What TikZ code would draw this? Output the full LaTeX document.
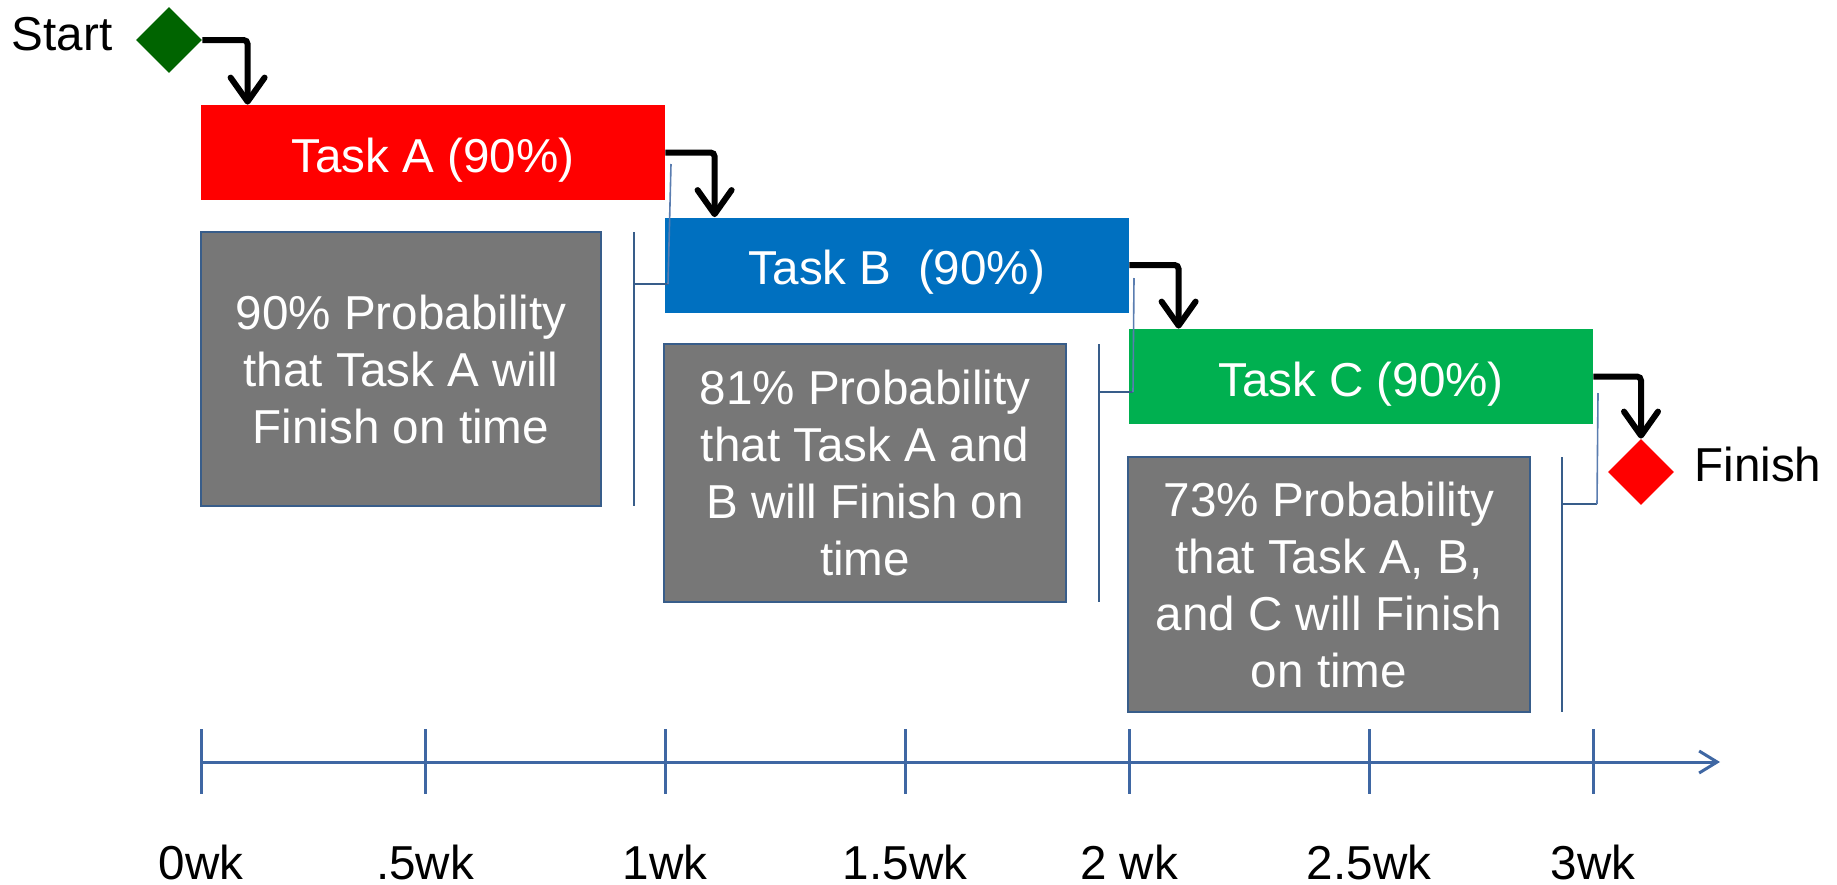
\documentclass[tikz,border=0pt]{standalone}
\usepackage{fontspec}
\setmainfont{Liberation Sans}
\usetikzlibrary{shapes.geometric,arrows.meta}

\definecolor{taskred}{HTML}{FF0000}
\definecolor{taskblue}{HTML}{0070C0}
\definecolor{taskgreen}{HTML}{00B050}
\definecolor{startgreen}{HTML}{006400}
\definecolor{notegray}{HTML}{777777}
\definecolor{boxedge}{HTML}{385D8A}
\definecolor{axisblue}{HTML}{3F67A3}
\definecolor{linkblue}{HTML}{5A7DB0}
\newcommand{\chartfont}{\fontsize{23.8}{28.5}\selectfont}

\tikzset{
  taskbar/.style={rectangle, inner sep=0pt, minimum width=232pt, minimum height=47.5pt,
    text=white, font=\chartfont, text height=19.5pt, text depth=0pt},
  notebox/.style={rectangle, draw=boxedge, line width=1pt, fill=notegray, text=white,
    inner sep=0pt, align=center, font=\chartfont},
  milestone/.style={diamond, inner sep=0pt, minimum width=33pt, minimum height=33pt},
  flow/.style={line width=3pt, rounded corners=2pt,
    -{Straight Barb[length=12pt,width=17pt,round]}},
  bracket/.style={draw=boxedge, line width=1pt},
  link/.style={draw=linkblue, line width=0.8pt},
  timeaxis/.style={draw=axisblue, line width=1.5pt}
}

\begin{document}
\begin{tikzpicture}[x=0.5pt,y=-0.5pt,font=\chartfont]
  \useasboundingbox (0,0) rectangle (1837,884);

    \node[milestone,fill=startgreen] (start) at (169,40) {};
    \node[anchor=base,inner sep=0pt] (startlbl) at (62,50) {Start};

    \node[taskbar,fill=taskred] (taskA) at (433,152.5) {Task A (90\%)};
    \node[taskbar,fill=taskblue] (taskB) at (897,265) {Task B\ \ (90\%)};
    \node[taskbar,fill=taskgreen] (taskC) at (1361,376.5) {Task C (90\%)};

    \node[milestone,fill=taskred] (finish) at (1641,472) {};
    \node[anchor=base west,inner sep=0pt] (finishlbl) at (1694,481) {Finish};

    \node[notebox,minimum width=200pt,minimum height=137pt] (noteA) at (401,369)
      {90\% Probability\\that Task A will\\Finish on time};
    \node[notebox,minimum width=201pt,minimum height=129pt] (noteB) at (865,473)
      {81\% Probability\\that Task A and\\B will Finish on\\time};
    \node[notebox,minimum width=201pt,minimum height=127.5pt] (noteC) at (1329,584.5)
      {73\% Probability\\that Task A, B,\\and C will Finish\\on time};

    \draw[flow] (start.east) -| ([xshift=23.5pt]taskA.north west);
    \draw[flow] (taskA.east) -| ([xshift=25pt]taskB.north west);
    \draw[flow] (taskB.east) -| ([xshift=25pt]taskC.north west);
    \draw[flow] (taskC.east) -| (finish.north);

    \draw[bracket] (634,232) -- (634,506) (634,284) -- (668,284);
    \draw[link] (668,284) -- (671,164);
    \draw[bracket] (1099,344) -- (1099,602) (1099,392) -- (1133,392);
    \draw[link] (1133,392) -- (1134,278);
    \draw[bracket] (1562,457) -- (1562,712) (1562,504) -- (1597,504);
    \draw[link] (1597,504) -- (1598,393);

    \draw[timeaxis,-{Straight Barb[length=9pt,width=11pt]}] (201,762) -- (1720,762);
    \foreach \x/\lbl in {201/0wk,425/.5wk,665/1wk,905/1.5wk,1129/2 wk,1369/2.5wk,1593/3wk} {
      \draw[timeaxis] (\x,729) -- (\x,794);
      \node[anchor=base,inner sep=0pt] (wk\x) at (\x,879) {\lbl};
    }

\end{tikzpicture}
\end{document}
